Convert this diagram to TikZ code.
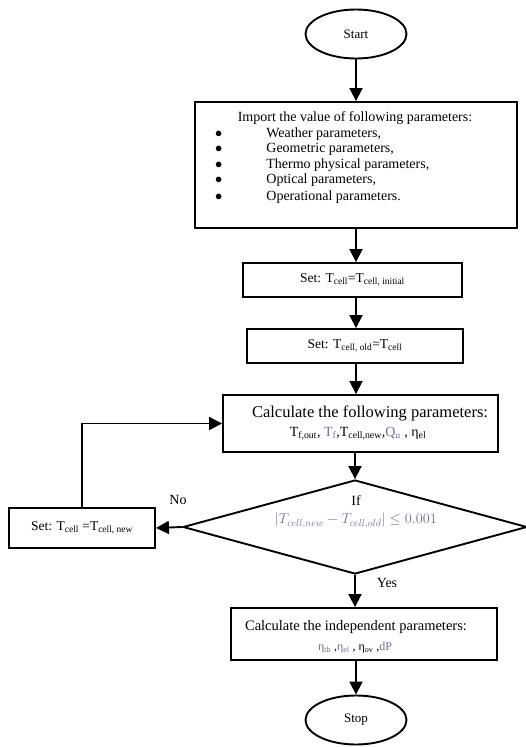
\documentclass[tikz,border=0pt]{standalone}
\usepackage{fontspec}
\setmainfont{Liberation Serif}
\usetikzlibrary{arrows.meta,shapes.geometric}
\definecolor{eqc}{RGB}{105,115,150}
\tikzset{
  box/.style={draw, line width=1.9pt, rectangle, inner sep=0pt},
  term/.style={draw, line width=1.9pt, ellipse, inner sep=0pt, minimum width=101pt, minimum height=49pt, font=\fontsize{13}{15}\selectfont},
  arr/.style={line width=1.9pt, -{Triangle[length=13pt,width=13pt]}},
  txt/.style={inner sep=0pt, align=center}
}
\begin{document}
\begin{tikzpicture}[x=1pt,y=-1pt]
\useasboundingbox (0,0) rectangle (525,747);
\node[term] (start) at (356,34) {Start};
\node[box, minimum width=322pt, minimum height=126pt] (import) at (356,165) {};
\node[txt, font=\fontsize{14}{16}\selectfont] (ititle) at (355,118) {Import the value of following parameters:};
\node[txt, anchor=north west, font=\fontsize{14}{16}\selectfont] (ilist) at (215,126)
  {\begin{tabular}{@{}l@{\hspace{44pt}}l@{}}
   $\bullet$ & Weather parameters,\\[-0.5pt]
   $\bullet$ & Geometric parameters,\\[-0.5pt]
   $\bullet$ & Thermo physical parameters,\\[-0.5pt]
   $\bullet$ & Optical parameters,\\[0.5pt]
   $\bullet$ & Operational parameters.
   \end{tabular}};
\node[box, minimum width=219pt, minimum height=34pt, font=\fontsize{13.5}{16}\selectfont] (set1) at (352.5,280)
  {Set: T\textsubscript{cell}=T\textsubscript{cell, initial}};
\node[box, minimum width=216pt, minimum height=34pt, font=\fontsize{13.5}{16}\selectfont] (set2) at (355,346)
  {Set: T\textsubscript{cell, old}=T\textsubscript{cell}};
\node[box, minimum width=275pt, minimum height=57pt] (calc) at (360.5,423.5) {};
\node[txt, font=\fontsize{16.5}{19}\selectfont] (ctitle) at (370,413) {Calculate the following parameters:};
\node[txt, font=\fontsize{14}{16}\selectfont] (cvars) at (358,434)
  {T\textsubscript{f,out}, {\color{eqc}T\textsubscript{f}},T\textsubscript{cell,new},{\color{eqc}Q\textsubscript{u}} , η\textsubscript{el}};
\node[draw, line width=1.9pt, diamond, inner sep=0pt, minimum width=344pt, minimum height=94pt] (dec) at (355,527) {};
\node[txt, font=\fontsize{14}{16}\selectfont] (cond) at (356,512)
  {If\\[2pt] {\color{eqc}$\left|T_{cell,new}-T_{cell,old}\right|\le 0.001$}};
\node[box, minimum width=146pt, minimum height=40pt, font=\fontsize{13.5}{16}\selectfont] (setnew) at (82,528)
  {Set: T\textsubscript{cell} =T\textsubscript{cell, new}};
\node[txt, font=\fontsize{14}{16}\selectfont] (nolab) at (178,500) {No};
\node[txt, font=\fontsize{14}{16}\selectfont] (yeslab) at (387,583) {Yes};
\node[box, minimum width=266pt, minimum height=52pt] (calc2) at (364,634) {};
\node[txt, font=\fontsize{14.5}{17}\selectfont] (c2title) at (356,627) {Calculate the independent parameters:};
\node[txt, font=\fontsize{12}{14}\selectfont] (c2vars) at (355,648)
  {{\color{eqc}η\textsubscript{th}} ,{\color{eqc}η\textsubscript{el}} , η\textsubscript{ov} ,{\color{eqc}dP}};
\node[term] (stop) at (356,720) {Stop};

\draw[arr] (start.south) -- (start.south |- import.north);
\draw[arr] (import.south -| start.south) -- (start.south |- set1.north);
\draw[arr] (set1.south -| start.south) -- (start.south |- set2.north);
\draw[arr] (set2.south -| start.south) -- (start.south |- calc.north);
\draw[arr] (calc.south -| dec.north) -- (dec.north);
\draw[arr] (dec.west) -- (setnew.east);
\draw[arr] (setnew.north) |- (calc.west);
\draw[arr] (dec.south) -- (dec.south |- calc2.north);
\draw[arr] (calc2.south -| stop.north) -- (stop.north);
\end{tikzpicture}
\end{document}
